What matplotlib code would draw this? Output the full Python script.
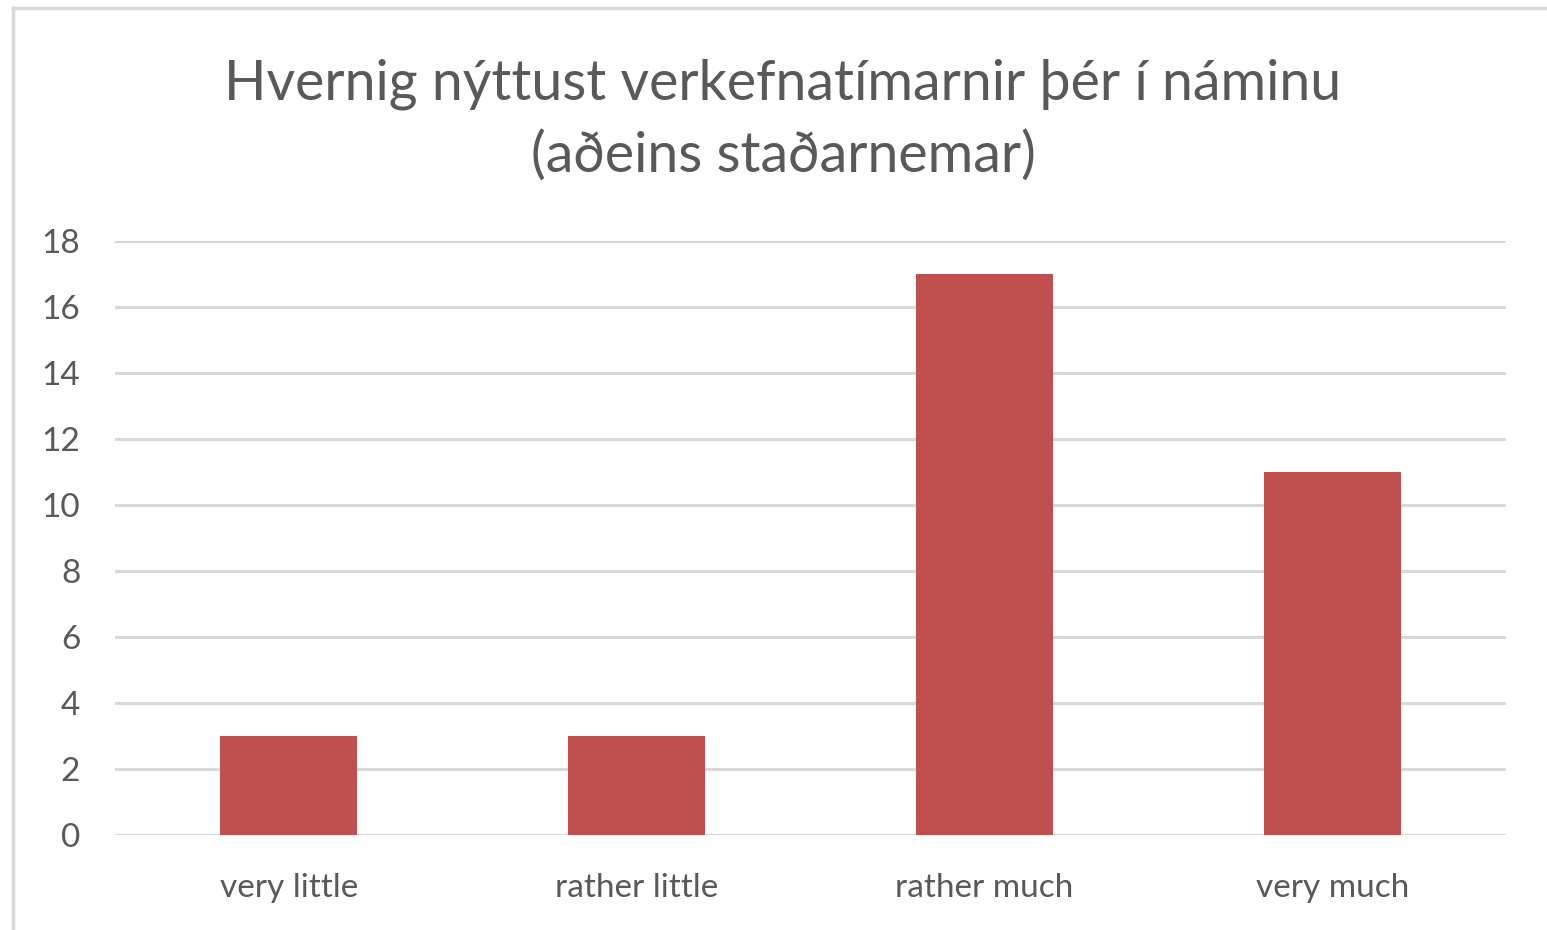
import matplotlib
matplotlib.use("Agg")
import matplotlib.pyplot as plt
from matplotlib.lines import Line2D

categories = ["very little", "rather little", "rather much", "very much"]
values = [3, 3, 17, 11]
yticks = [0, 2, 4, 6, 8, 10, 12, 14, 16, 18]
title = "Hvernig nýttust verkefnatímarnir þér í náminu\n(aðeins staðarnemar)"

W, H = 1547, 930
fig = plt.figure(figsize=(W / 100, H / 100), dpi=100)
plt.rcParams['font.family'] = ['Lato', 'DejaVu Sans']

ax = fig.add_axes([115 / W, 1 - 835 / H, (1506 - 115) / W, (835 - 241) / H])
ax.bar(range(len(categories)), values, width=0.394, color="#C0504D", zorder=3)
ax.set_xlim(-0.5, len(categories) - 0.5)
ax.set_ylim(0, 18)
ax.set_yticks(yticks)
ax.set_yticklabels([str(v) for v in yticks])
ax.set_xticks(range(len(categories)))
ax.set_xticklabels(categories)
ax.tick_params(axis='both', length=0, labelsize=24, labelcolor="#595959")
ax.tick_params(axis='y', pad=25)
ax.tick_params(axis='x', pad=27)
for s in ax.spines.values():
    s.set_visible(False)
ax.grid(axis='y', color="#d9d9d9", linewidth=2.2, zorder=0)
ax.set_axisbelow(True)

fig.text(783 / W, 1 - 120 / H, title, ha='center', va='center', fontsize=40,
         color="#595959", linespacing=1.48)

fig.add_artist(Line2D([12.5 / W, 12.5 / W], [0, 1 - 8.5 / H], color="#d9d9d9", linewidth=2.5,
                      transform=fig.transFigure))
fig.add_artist(Line2D([12.5 / W, 1], [1 - 8.5 / H, 1 - 8.5 / H], color="#d9d9d9", linewidth=2.5,
                      transform=fig.transFigure))

fig.savefig("out.png", dpi=100)
